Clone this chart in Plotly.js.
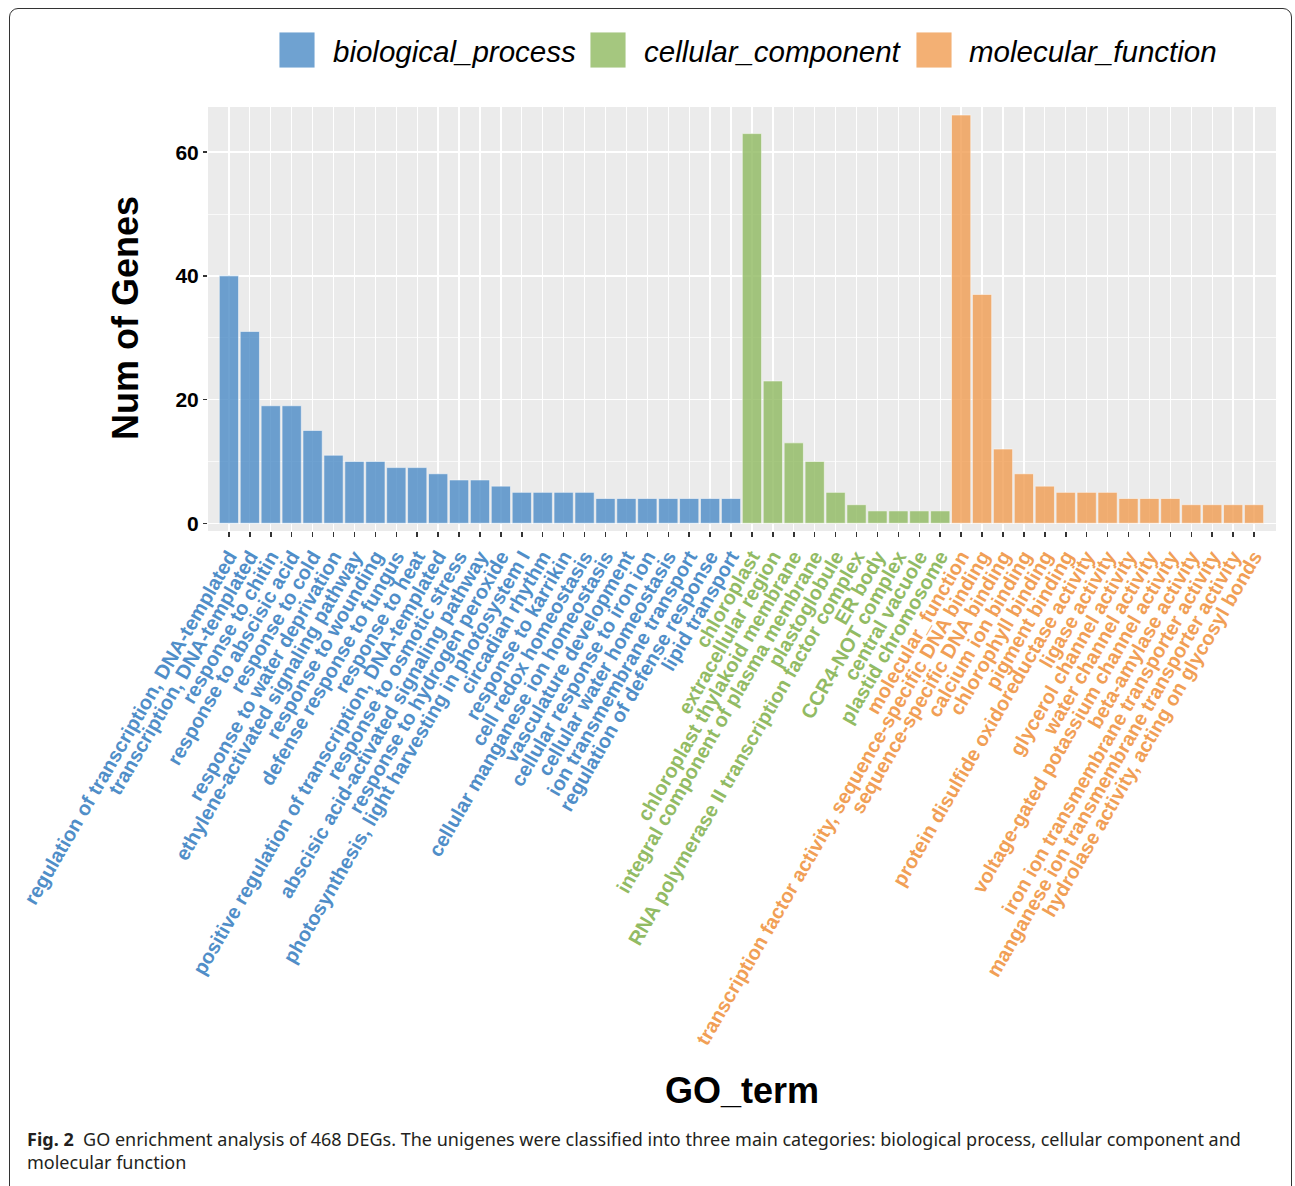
<!DOCTYPE html>
<html>
<head>
<meta charset="utf-8">
<script src="https://cdn.plot.ly/plotly-3.0.1.min.js"></script>
<style>
  html, body { margin: 0; padding: 0; background: #ffffff; }
  #frame { position: absolute; left: 9px; top: 8px; width: 1283px; height: 1190px; border: 1.3px solid #333; border-radius: 9px; box-sizing: border-box; }
  #chart { position: absolute; left: 0; top: 0; width: 1295px; height: 1186px; }
</style>
</head>
<body>
<div id="frame"></div>
<div id="chart"></div>
<script>
// ---- data ----
const categories = ["biological_process", "cellular_component", "molecular_function"];

const bpTerms = [
  "regulation of transcription, DNA-templated",
  "transcription, DNA-templated",
  "response to chitin",
  "response to abscisic acid",
  "response to cold",
  "response to water deprivation",
  "ethylene-activated signaling pathway",
  "response to wounding",
  "defense response to fungus",
  "response to heat",
  "positive regulation of transcription, DNA-templated",
  "response to osmotic stress",
  "abscisic acid-activated signaling pathway",
  "response to hydrogen peroxide",
  "photosynthesis, light harvesting in photosystem I",
  "circadian rhythm",
  "response to karrikin",
  "cell redox homeostasis",
  "cellular manganese ion homeostasis",
  "vasculature development",
  "cellular response to iron ion",
  "cellular water homeostasis",
  "ion transmembrane transport",
  "regulation of defense response",
  "lipid transport"
];
const bpCounts = [40, 31, 19, 19, 15, 11, 10, 10, 9, 9, 8, 7, 7, 6, 5, 5, 5, 5, 4, 4, 4, 4, 4, 4, 4];

const ccTerms = [
  "chloroplast",
  "extracellular region",
  "chloroplast thylakoid membrane",
  "integral component of plasma membrane",
  "plastoglobule",
  "RNA polymerase II transcription factor complex",
  "ER body",
  "CCR4-NOT complex",
  "central vacuole",
  "plastid chromosome"
];
const ccCounts = [63, 23, 13, 10, 5, 3, 2, 2, 2, 2];

const mfTerms = [
  "molecular_function",
  "transcription factor activity, sequence-specific DNA binding",
  "sequence-specific DNA binding",
  "calcium ion binding",
  "chlorophyll binding",
  "pigment binding",
  "protein disulfide oxidoreductase activity",
  "ligase activity",
  "glycerol channel activity",
  "water channel activity",
  "voltage-gated potassium channel activity",
  "beta-amylase activity",
  "iron ion transmembrane transporter activity",
  "manganese ion transmembrane transporter activity",
  "hydrolase activity, acting on glycosyl bonds"
];
const mfCounts = [66, 37, 12, 8, 6, 5, 5, 5, 4, 4, 4, 3, 3, 3, 3];

const yTickVals = [0, 20, 40, 60];
const captionBold = "Fig. 2";
const captionText = "GO enrichment analysis of 468 DEGs. The unigenes were classified into three main categories: biological process, cellular component and<br>molecular function";

// ---- styles ----
const colors = ["#508ec8", "#92bb64", "#f19f56"];
const W = 1295, H = 1186;
const plotL = 208, plotR = 1276, plotT = 107, plotB = 531;
const px2x = px => (px - plotL) / (plotR - plotL);
const px2y = py => (plotB - py) / (plotB - plotT);

const groups = [bpTerms, ccTerms, mfTerms];
const counts = [bpCounts, ccCounts, mfCounts];
const allTerms = [].concat(bpTerms, ccTerms, mfTerms);

const traces = groups.map((terms, i) => ({
  type: "bar",
  name: categories[i],
  x: terms,
  y: counts[i],
  marker: { color: colors[i], opacity: 0.82, line: { color: "rgba(255,255,255,0.55)", width: 1 } },
  width: 0.92,
  showlegend: false,
  hoverinfo: "x+y"
}));

const tickText = [];
groups.forEach((terms, i) => terms.forEach(t => tickText.push('<span style="color:' + colors[i] + '">' + t + '</span>')));

const shapes = [];
const annotations = [];

// legend (manual, large keys like ggplot)
const keyX = [279, 590, 916];
const textX = [331, 642, 967];
categories.forEach((c, i) => {
  shapes.push({
    type: "rect", xref: "paper", yref: "paper",
    x0: px2x(keyX[i]), x1: px2x(keyX[i] + 36),
    y0: px2y(68), y1: px2y(32),
    fillcolor: colors[i], opacity: 0.82,
    line: { color: "rgba(255,255,255,0.9)", width: 1 }
  });
  annotations.push({
    xref: "paper", yref: "paper", x: px2x(textX[i]), y: px2y(51),
    xanchor: "left", yanchor: "middle", showarrow: false,
    text: c,
    font: { family: "Liberation Sans, Arial, sans-serif", size: 29.5, color: "#000", style: "italic" }
  });
});

// axis titles
annotations.push({
  xref: "paper", yref: "paper", x: px2x(125), y: px2y(318),
  xanchor: "center", yanchor: "middle", showarrow: false, textangle: -90,
  text: "<b>Num of Genes</b>",
  font: { family: "Liberation Sans, Arial, sans-serif", size: 36, color: "#000" }
});
annotations.push({
  xref: "paper", yref: "paper", x: px2x(742), y: px2y(1090),
  xanchor: "center", yanchor: "middle", showarrow: false,
  text: "<b>GO_term</b>",
  font: { family: "Liberation Sans, Arial, sans-serif", size: 36, color: "#000" }
});

// caption
annotations.push({
  xref: "paper", yref: "paper", x: px2x(25), y: px2y(1125),
  xanchor: "left", yanchor: "top", showarrow: false, align: "left",
  text: "<b>" + captionBold + "</b>  " + captionText,
  font: { family: "Noto Sans, Open Sans, sans-serif", size: 18, color: "#231f20" }
});

const layout = {
  width: W, height: H,
  margin: { l: plotL, r: W - plotR, t: plotT, b: H - plotB, pad: 0 },
  paper_bgcolor: "rgba(0,0,0,0)",
  plot_bgcolor: "#ebebeb",
  bargap: 0.1,
  barmode: "group",
  xaxis: {
    type: "category",
    categoryorder: "array",
    categoryarray: allTerms,
    tickvals: allTerms,
    ticktext: tickText,
    range: [-1.0, allTerms.length + 0.05],
    tickangle: -60,
    tickfont: { family: "Liberation Sans, Arial, sans-serif", size: 20, weight: "bold" },
    showgrid: true, gridcolor: "#ffffff", gridwidth: 1.3,
    ticks: "outside", ticklen: 5, tickwidth: 1.5, tickcolor: "#333",
    zeroline: false, showline: false, automargin: false
  },
  yaxis: {
    range: [-1.25, 67.3],
    tickvals: yTickVals,
    ticktext: yTickVals.map(String),
    tickfont: { family: "Liberation Sans, Arial, sans-serif", size: 21, weight: "bold", color: "#000" },
    showgrid: true, gridcolor: "#ffffff", gridwidth: 1.4,
    minor: { dtick: 10, tick0: 0, showgrid: true, gridcolor: "#ffffff", gridwidth: 0.7 },
    ticks: "outside", ticklen: 4, tickwidth: 1.5, tickcolor: "#333",
    zeroline: false, showline: false, automargin: false
  },
  shapes: shapes,
  annotations: annotations,
  showlegend: false
};

Plotly.newPlot("chart", traces, layout, { displayModeBar: false, staticPlot: true });
</script>
</body>
</html>
